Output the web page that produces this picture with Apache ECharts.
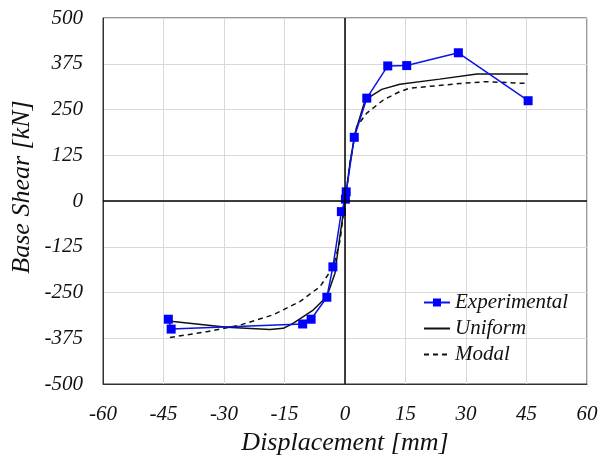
<!DOCTYPE html>
<html><head><meta charset="utf-8">
<script src="https://cdn.jsdelivr.net/npm/echarts@6/dist/echarts.min.js"></script>
<style>html,body{margin:0;padding:0;background:#fff}#c{width:603px;height:459px}</style>
</head><body><div id="c"></div>
<script>
var expX = [-43.8, -43.1, -10.5, -8.4, -4.5, -3.0, -0.9, 0.1, 0.3, 2.3, 5.4, 10.6, 15.3, 28.1, 45.4];
var expY = [-323, -350, -336, -323, -263, -180, -29, 5, 25, 174, 281, 369, 370, 405, 274];
var uniX = [-43.8, -29.3, -18.6, -15.3, -12.8, -7.9, -4.5, -2.5, -1.4, 0, 1.2, 2.5, 5, 9.1, 13.6, 23.5, 32.7, 45.4];
var uniY = [-328, -345, -351, -348, -334, -298, -261, -198, -106, 0, 100, 186, 276, 305, 319, 333, 347, 347];
var modX = [-43.4, -34.3, -26, -17.8, -11.2, -6.2, -2.9, -1.2, 0, 1.3, 2.9, 5.4, 9.5, 13.6, 16, 28.5, 35, 45.4];
var modY = [-373, -357, -339, -311, -275, -234, -180, -107, 0, 110, 203, 240, 276, 299, 308, 321, 326, 321];
var xTicks = [-60, -45, -30, -15, 0, 15, 30, 45, 60];
var yTicks = [-500, -375, -250, -125, 0, 125, 250, 375, 500];

function pairs(xs, ys){ return xs.map(function(x,i){return [x, ys[i]];}); }
var font = 'Liberation Serif';
var chart = echarts.init(document.getElementById('c'));
chart.setOption({
  animation: false,
  backgroundColor: '#fff',
  grid: {left: 103, right: 16, top: 18, bottom: 75, show: true, borderColor: '#333', borderWidth: 1,
         containLabel: false, outerBoundsMode: 'none'},
  graphic: [{
    type: 'text', x: 22, y: 187, rotation: Math.PI / 2,
    style: {text: 'Base Shear [kN]', fontFamily: font, fontStyle: 'italic', fontSize: 26,
            fill: '#111', align: 'center', verticalAlign: 'middle'}
  }],
  xAxis: {
    type: 'value', min: xTicks[0], max: xTicks[xTicks.length-1], interval: 15,
    name: 'Displacement [mm]', nameLocation: 'middle', nameGap: 46,
    nameTextStyle: {fontFamily: font, fontStyle: 'italic', fontSize: 26, color: '#111'},
    axisLine: {onZero: false, lineStyle: {color: '#333'}},
    axisTick: {show: false},
    axisLabel: {fontFamily: font, fontStyle: 'italic', fontSize: 21, color: '#111', margin: 20},
    splitLine: {lineStyle: {color: '#d9d9d9'}}
  },
  yAxis: {
    type: 'value', min: yTicks[0], max: yTicks[yTicks.length-1], interval: 125,
    axisLine: {onZero: false, lineStyle: {color: '#333'}},
    axisTick: {show: false},
    axisLabel: {fontFamily: font, fontStyle: 'italic', fontSize: 21, color: '#111', margin: 20},
    splitLine: {lineStyle: {color: '#d9d9d9'}}
  },
  legend: {
    orient: 'vertical', left: 418, top: 287, itemGap: 5, itemWidth: 26, itemHeight: 10,
    textStyle: {fontFamily: font, fontStyle: 'italic', fontSize: 21, color: '#111'},
    data: [
      {name: 'Experimental'},
      {name: 'Uniform', itemStyle: {color: 'rgba(0,0,0,0)', borderWidth: 0}},
      {name: 'Modal', itemStyle: {color: 'rgba(0,0,0,0)', borderWidth: 0}}
    ]
  },
  series: [
    {
      name: 'Uniform', type: 'line', data: pairs(uniX, uniY), showSymbol: false, symbol: 'none',
      lineStyle: {color: '#111', width: 1.5}, itemStyle: {color: '#111'}, z: 3,
      markLine: {
        silent: true, symbol: 'none', label: {show: false},
        lineStyle: {color: '#000', width: 1.5, type: 'solid'},
        data: [{xAxis: 0}, {yAxis: 0}]
      }
    },
    {
      name: 'Modal', type: 'line', data: pairs(modX, modY), showSymbol: false, symbol: 'none',
      lineStyle: {color: '#111', width: 1.5, type: [5, 4]}, itemStyle: {color: '#111'}, z: 3
    },
    {
      name: 'Experimental', type: 'line', data: pairs(expX, expY), symbol: 'rect', symbolSize: 9,
      lineStyle: {color: '#0a14e6', width: 1.5}, itemStyle: {color: '#0000ff'}, z: 4
    }
  ]
});
</script></body></html>
